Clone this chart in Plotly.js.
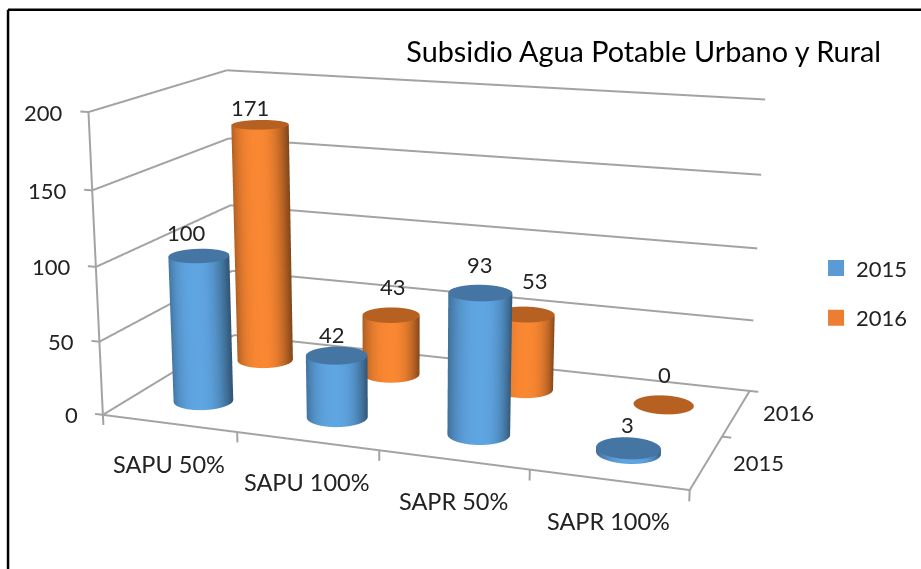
<!DOCTYPE html>
<html><head><meta charset="utf-8">
<script src="https://cdn.plot.ly/plotly-3.0.1.min.js"></script>
<style>html,body{margin:0;padding:0;background:#fff;overflow:hidden}#w{position:absolute;left:0;top:0;width:921px;height:569px;overflow:hidden}#c{position:absolute}</style></head>
<body><div id="w"><div id="c"></div></div>
<script>
var categories=["SAPU 50%","SAPU 100%","SAPR 50%","SAPR 100%"];
var years=["2015","2016"];
var v2015=[100,42,93,3];
var v2016=[171,43,53,0];
var zTicks=[0,50,100,150,200];
var W=921;
var xr=[-0.6,3.6],yr=[-0.6,1.6],zr=[-10,205];
// camera fitted to the reference's perspective; the plot is larger than the window to get its long focal length
var PW=1026,PH=1497,LEFT=407.96-PW/2,TOP=306.2-PH/2;
var gdEl=document.getElementById("c");gdEl.style.left=LEFT+"px";gdEl.style.top=TOP+"px";
function px(x){return (x-LEFT)/PW;}
function py(y){return 1-(y-TOP)/PH;}

var traces=[];
var GRID="#a3a3a3";
function seg(xs,ys,zs){traces.push({type:"scatter3d",mode:"lines",x:xs,y:ys,z:zs,line:{color:GRID,width:4},hoverinfo:"skip",showlegend:false});}
var xa=-0.5,xb=3.5,ya=-0.5,yb=1.5;
zTicks.forEach(function(z){
 seg([xa,xa],[ya,yb],[z,z]);
 seg([xa,xb],[yb,yb],[z,z]);
 seg([xa-0.06,xa],[ya,ya],[z,z]);
});
seg([xa,xa],[ya,ya],[0,200]);
seg([xa,xb],[ya,ya],[0,0]);
seg([xb,xb],[ya,yb],[0,0]);
seg([xb,xb+0.06],[yb,yb],[0,0]);
[-0.5,0.5,1.5,2.5,3.5].forEach(function(x){seg([x,x],[ya,ya],[0,-7]);});
seg([xb,xb+0.06],[0.5,0.5],[0,0]);

var blue=[95,165,226],orange=[250,135,50],capB=[68,117,163],capO=[182,96,34];
function rgb(c,f){return "rgb("+c.map(function(v){return Math.round(v*f)}).join(",")+")";}
function cyl(cx,cy,h,base,cap,name){
 var n=48,rx=0.205,ry=0.2015,xs=[],ys=[],zs=[],vc=[],I=[],J=[],K=[];
 for(var t=0;t<n;t++){var a=2*Math.PI*t/n;
  var o=Math.cos(a-0.34);
  var f=o<0?1-0.32*Math.pow(-o,2.5):1-0.48*Math.pow(o,2.5);
  xs.push(cx+rx*Math.cos(a),cx+rx*Math.cos(a));ys.push(cy+ry*Math.sin(a),cy+ry*Math.sin(a));zs.push(0,h);vc.push(rgb(base,f),rgb(base,f));}
 if(h>0)for(var t=0;t<n;t++){var a0=2*t,a1=2*((t+1)%n);I.push(a0,a0+1);J.push(a1,a1);K.push(a0+1,a1+1);}
 var st=xs.length;
 for(var t=0;t<n;t++){var a=2*Math.PI*t/n;xs.push(cx+rx*Math.cos(a));ys.push(cy+ry*Math.sin(a));zs.push(h);vc.push(rgb(cap,1));}
 xs.push(cx);ys.push(cy);zs.push(h);vc.push(rgb(cap,1));
 var c=xs.length-1;
 for(var t=0;t<n;t++){I.push(c);J.push(st+t);K.push(st+(t+1)%n);}
 traces.push({type:"mesh3d",x:xs,y:ys,z:zs,i:I,j:J,k:K,vertexcolor:vc,flatshading:false,
  lighting:{ambient:1,diffuse:0,specular:0,fresnel:0,roughness:1},hoverinfo:"skip",name:name,showlegend:false});
}
categories.forEach(function(c,i){
 cyl(i,1,v2016[i],orange,capO,"2016");
 cyl(i,0,v2015[i],blue,capB,"2015");
});
var legendColors=["#5B9BD5","#ED7D31"];
years.forEach(function(y,i){traces.push({type:"scatter3d",mode:"markers",x:[null],y:[null],z:[null],name:y,legendgroup:y,marker:{size:16,symbol:"square",color:legendColors[i]}});});

var FONT={size:22,color:"#222",family:"Lato, sans-serif"};
var ann=[];
function A(x,y,z,t,dx,dy,anc,sz){ann.push({x:x,y:y,z:z,text:t,showarrow:false,xshift:dx,yshift:dy,xanchor:anc||"center",yanchor:"middle",font:sz?{size:sz,color:FONT.color,family:FONT.family}:FONT});}
zTicks.forEach(function(z){A(xa,ya,z,String(z),-23,0,"right");});
categories.forEach(function(c,i){A(i,ya,0,c,0,-41,null,23.5);});
years.forEach(function(y,i){A(xb,i,0,y,52,0);});
var off15=[[-12,23],[-5,21],[0,28],[-1,24]],off16=[[-10,17],[2,29],[10,34],[1,30]];
categories.forEach(function(c,i){
 A(i,0,v2015[i],String(v2015[i]),off15[i][0],off15[i][1]);
 A(i,1,v2016[i],String(v2016[i]),off16[i][0],off16[i][1]);
});
var ax={showbackground:false,showgrid:false,showline:false,zeroline:false,showticklabels:false,ticks:"",showspikes:false,title:{text:""}};
var layout={width:PW,height:PH,margin:{l:0,r:0,t:0,b:0},paper_bgcolor:"#fff",showlegend:true,
 legend:{x:px(816),y:py(247),yanchor:"top",xanchor:"left",font:{size:22,color:"#222",family:"Lato, sans-serif"},tracegroupgap:18,bgcolor:"rgba(0,0,0,0)"},
 title:{text:"Subsidio Agua Potable Urbano y Rural",xref:"paper",yref:"paper",x:px(881),xanchor:"right",y:py(52),yanchor:"middle",font:{size:28.8,color:"#000",family:"Lato, sans-serif"}},
 scene:{domain:{x:[0,1],y:[0,1]},aspectmode:"manual",aspectratio:{x:1.6,y:0.85294,z:0.8431},
  camera:{eye:{x:1.504,y:-4.242,z:1.126},center:{x:-0.013,y:-0.1517,z:-0.0825},up:{x:0.0004,y:0.0018,z:1},projection:{type:"perspective"}},
  annotations:ann,
  xaxis:Object.assign({},ax,{range:xr}),yaxis:Object.assign({},ax,{range:yr}),zaxis:Object.assign({},ax,{range:zr})},
 shapes:[{type:"line",xref:"paper",yref:"paper",x0:px(8),x1:px(925),y0:py(9.5),y1:py(9.5),line:{color:"#000",width:2.5}},
         {type:"line",xref:"paper",yref:"paper",x0:px(8),x1:px(8),y0:py(575),y1:py(9.5),line:{color:"#000",width:2.5}}]};
Plotly.newPlot("c",traces,layout,{displayModeBar:false});
</script></body></html>
